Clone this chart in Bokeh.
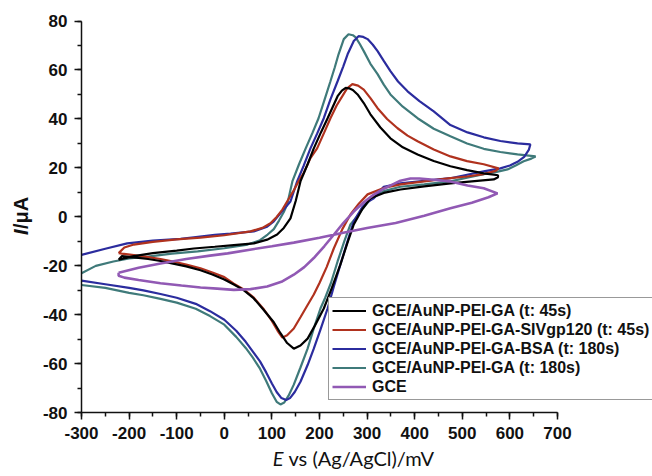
import math
from bokeh.plotting import figure
from bokeh.models import (Label, Legend, LegendItem, SingleIntervalTicker, LinearAxis,
                          PrintfTickFormatter)
from bokeh.embed import file_html
from bokeh.resources import INLINE

# ---- data (E in mV, I in uA) ----
black_E = [-222, -190, -150, -100, -64, -20, 20, 62, 90, 111, 125, 139, 150, 160, 175, 188, 203, 217, 228, 238, 247, 255,
           262, 270, 280, 293, 307, 328, 349, 375, 406, 440, 475, 510, 545, 575,
           575, 566, 520, 475, 420, 370, 335, 307, 290, 272, 258, 244, 226, 209, 190, 175, 160, 146,
           132, 118, 104, 82, 62, 40, 20, 0, -25, -50, -80, -110, -134, -160, -190, -215, -222]
black_I = [-17.5, -16, -14.8, -13.8, -12.9, -12.2, -11.5, -10.8, -9.3, -7.2, -4.5, -0.6, 6.5, 14.5, 21.5, 28, 34.5, 40.3, 45, 49.3, 51.6, 52.7,
           52.5, 51.8, 50, 46.5, 41.9, 36.5, 32.1, 28.4, 25.5, 22.8, 20.7, 19.1, 17.8, 17.0,
           16.2, 15.3, 14.5, 13.7, 12.5, 11.2, 9.8, 7.6, 3.2, -3.1, -11, -19.4, -29, -37.4, -44.5, -49.7, -52.5, -53.8,
           -51.5, -47.5, -43, -37.8, -33.3, -29.8, -27.6, -25.6, -23.5, -21.8, -20.2, -19, -18, -17.2, -16.5, -16, -17.5]

red_E = [-222, -210, -190, -150, -100, -50, 0, 55, 80, 97, 110, 122, 132, 145, 156, 167, 181, 195, 210, 223, 236, 248, 258, 269,
         281, 293, 307, 322, 342, 364, 385, 406, 440, 475, 510, 545, 576,
         570, 545, 510, 475, 420, 370, 335, 301, 283, 265, 248, 230, 215, 200, 188, 175, 160, 146, 132, 122,
         112, 100, 82, 62, 40, 20, 0, -25, -50, -80, -110, -134, -160, -190, -215, -222]
red_I = [-14.8, -12.5, -11.3, -10.2, -9.2, -8.5, -7.5, -5.9, -4.5, -2.6, 0, 3, 6.3, 10.5, 14.5, 18, 24, 28, 34.5, 40.3, 45.5, 49.3, 52.5, 54.2,
         53.6, 52, 48.5, 44.4, 40, 36.2, 33.2, 30.9, 27.5, 24.7, 22.8, 21.5, 19.8,
         18.8, 17.5, 16.5, 15.8, 14.5, 13.3, 11.8, 9.2, 5.5, 1, -5, -12.9, -20.5, -27, -31.7, -36, -41, -45.6, -48.3, -49.3,
         -46.5, -42.5, -37.5, -33, -29.5, -27.3, -24.6, -22.7, -21, -19.5, -18.1, -17.2, -16.4, -15.6, -15, -14.8]

blue_E = [-300, -250, -204, -150, -92, -64, -20, 13, 62, 90, 104, 120, 139, 153, 167, 181, 195, 209, 223, 238, 250, 259, 272, 282,
          292, 301, 312, 322, 335, 349, 365, 385, 410, 440, 475, 511, 545, 580, 616, 643,
          640, 630, 616, 600, 580, 545, 510, 475, 420, 370, 335, 314, 300, 290, 272, 258, 244, 230, 217, 202, 188, 175, 160, 148, 138, 130,
          120, 110, 100, 88, 75, 60, 45, 25, 0, -30, -60, -100, -134, -170, -200, -250, -300]
blue_I = [-15.5, -13, -10.8, -9.7, -9.0, -8.3, -7.3, -6.8, -5.9, -4, -1.8, 2, 6.3, 14.5, 21, 28, 34, 40.3, 48, 55.4, 61.5, 66.4, 71.8, 73.8,
          73.5, 72.6, 70.3, 67.7, 63.7, 59.5, 55.3, 51.3, 47.3, 43.1, 37.5, 34.5, 32.5, 31, 30, 29.6,
          27.5, 24.5, 22.5, 21, 19.8, 18.6, 17.2, 15.8, 14.7, 13.7, 12.3, 7.6, 6, 4, -1.8, -10.5, -19.4, -28.5, -37.4, -46, -53.8, -60.5, -67.3, -71.5, -74, -74.8,
          -74, -71.5, -68, -63.5, -59, -55, -51, -46.5, -42, -38.5, -35.5, -33, -31.5, -30, -29, -27.5, -26]

teal_E = [-300, -270, -233, -200, -161, -110, -56, 0, 49, 75, 91, 104, 115, 125, 132, 143, 157, 171, 185, 198, 210, 223, 232, 240,
          251, 261, 270, 276, 285, 293, 307, 322, 335, 349, 375, 406, 440, 475, 510, 545, 580, 616, 654,
          645, 629, 612, 595, 570, 545, 510, 475, 420, 370, 335, 307, 290, 278, 265, 252, 238, 224, 212, 202, 188, 175, 160, 146, 135, 126, 118,
          110, 100, 88, 75, 60, 45, 25, 0, -30, -60, -100, -134, -170, -200, -250, -300]
teal_I = [-23, -20, -18.2, -17, -16.2, -15, -14.1, -12.8, -11.3, -9.5, -7.2, -5, -1.5, 2, 5, 14.5, 21.5, 28, 34.2, 40.3, 47.5, 55.4, 61, 66.4,
          72.6, 74.6, 74.2, 73.3, 70.5, 67.7, 62.5, 58.3, 54, 50, 45, 40.3, 36, 32.9, 30, 27.8, 26.5, 25.5, 24.7,
          23.8, 22.7, 21, 19.4, 18.3, 17.4, 16, 14.5, 13.3, 12.3, 10.5, 7.2, 3.2, 0, -3.1, -10, -18.2, -27, -33, -37.4, -45.5, -53.8, -61.5, -68.5, -73, -75.8, -76.6,
          -75.5, -72, -67, -62, -57.5, -53.5, -49, -44, -40.5, -37.5, -35, -33.5, -32, -31, -29, -27.8]

gce_E = [-222, -180, -134, -80, -30, 7, 60, 100, 146, 200, 250, 300, 360, 420, 475, 520, 555, 574,
         545, 511, 475, 440, 410, 391, 370, 356, 335, 314, 293, 272, 250, 230, 210, 188, 168, 146, 120, 90, 55, 20,
         -15, -50, -90, -134, -180, -210, -222, -222]
gce_I = [-22.8, -20.8, -19, -17.2, -15.8, -14.9, -13.2, -12, -10.5, -8.5, -6.5, -4.5, -2.5, 0.5, 3.5, 5.8, 8, 9.6,
         11.7, 12.8, 14.5, 15.2, 15.7, 15.7, 14.8, 13.5, 11.5, 9.1, 6, 2.2, -2.5, -7.3, -12, -16.8, -20.5, -23.6, -26.5, -28.4, -29.5, -29.8,
         -29.3, -28.8, -28, -27.1, -25.8, -24.8, -24, -22.8]

labels = ["GCE/AuNP-PEI-GA (t: 45s)", "GCE/AuNP-PEI-GA-SIVgp120 (t: 45s)", "GCE/AuNP-PEI-GA-BSA (t: 180s)",
          "GCE/AuNP-PEI-GA (t: 180s)", "GCE"]
colors = ["#000000", "#b0321e", "#2b2c9e", "#3f7a7a", "#9159b4"]

x_axis_range = (-300, 700)
y_axis_range = (-80, 80)

# frame fills the whole canvas; axes are pinned at x=-300 / y=-80
ux = (x_axis_range[1] - x_axis_range[0]) / 476.0   # data units per pixel
uy = (y_axis_range[1] - y_axis_range[0]) / 391.8
x_start = x_axis_range[0] - 81 * ux
x_end = x_axis_range[1] + 95 * ux
y_end = y_axis_range[1] + 20.5 * uy
y_start = y_axis_range[0] - (476 - 412.3) * uy

p = figure(width=652, height=476, x_range=(x_start, x_end), y_range=(y_start, y_end),
           output_backend="svg", toolbar_location=None,
           x_axis_location=None, y_axis_location=None,
           min_border_left=0, min_border_right=0, min_border_top=0, min_border_bottom=0)
p.outline_line_color = None
p.xgrid.visible = False
p.ygrid.visible = False
p.background_fill_color = "white"
p.border_fill_color = "white"

series = [(black_E, black_I), (red_E, red_I), (blue_E, blue_I), (teal_E, teal_I), (gce_E, gce_I)]
draw_order = [3, 2, 1, 0, 4]
rends = {}
for k in draw_order:
    e, i = series[k]
    rends[k] = p.line(e, i, line_color=colors[k], line_width=2.2 if k != 4 else 2.6)

xaxis = LinearAxis(fixed_location=y_axis_range[0], bounds=x_axis_range,
                   ticker=SingleIntervalTicker(interval=100, num_minor_ticks=2))
yaxis = LinearAxis(fixed_location=x_axis_range[0], bounds=y_axis_range,
                   ticker=SingleIntervalTicker(interval=20, num_minor_ticks=2))
for ax in (xaxis, yaxis):
    ax.formatter = PrintfTickFormatter(format="%d")
    ax.axis_line_width = 1.5
    ax.axis_line_color = "#111111"
    ax.major_tick_line_color = "#111111"
    ax.minor_tick_line_color = "#111111"
    ax.major_tick_line_width = 1.5
    ax.minor_tick_line_width = 1.5
    ax.major_tick_out = 7
    ax.major_tick_in = 0
    ax.minor_tick_out = 4
    ax.minor_tick_in = 0
    ax.major_label_text_font = "Liberation Sans"
    ax.major_label_text_font_style = "bold"
    ax.major_label_text_font_size = "17px"
    ax.major_label_text_color = "#111111"
    ax.major_label_standoff = 7
p.add_layout(xaxis, "below")
p.add_layout(yaxis, "left")

legend = Legend(items=[LegendItem(label=labels[k], renderers=[rends[k]]) for k in range(5)],
                location=(328, 76), orientation="vertical",
                label_text_font="Liberation Sans", label_text_font_style="bold", label_text_font_size="16px",
                label_text_color="#111111", label_height=19, glyph_height=19, glyph_width=34,
                label_standoff=6, spacing=0, padding=3, margin=0,
                border_line_color="#333333", border_line_width=1, background_fill_alpha=1.0)
p.add_layout(legend, "center")

# axis titles (italic symbol + upright unit), placed in data units of the full-canvas frame
ylab_x = x_start + 20 * ux
ylab_y = y_end - 229 * uy
xlab_y = y_end - 457 * uy
p.add_layout(Label(x=ylab_x, y=ylab_y, text="I", angle=math.pi / 2,
                   text_font="Liberation Sans", text_font_style="bold italic", text_font_size="20px",
                   text_align="right", text_baseline="middle", text_color="#111111"))
p.add_layout(Label(x=ylab_x, y=ylab_y + 0.4 * uy, text="/μA", angle=math.pi / 2,
                   text_font="Liberation Sans", text_font_style="bold", text_font_size="20px",
                   text_align="left", text_baseline="middle", text_color="#111111"))
p.add_layout(Label(x=x_start + 283 * ux, y=xlab_y, text="E",
                   text_font="Lato", text_font_style="italic", text_font_size="20px",
                   text_align="right", text_baseline="middle", text_color="#111111"))
p.add_layout(Label(x=x_start + 288 * ux, y=xlab_y, text="vs (Ag/AgCl)/mV",
                   text_font="Lato", text_font_style="normal", text_font_size="20px",
                   text_align="left", text_baseline="middle", text_color="#111111"))

open("out.html", "w").write(file_html(p, INLINE))
